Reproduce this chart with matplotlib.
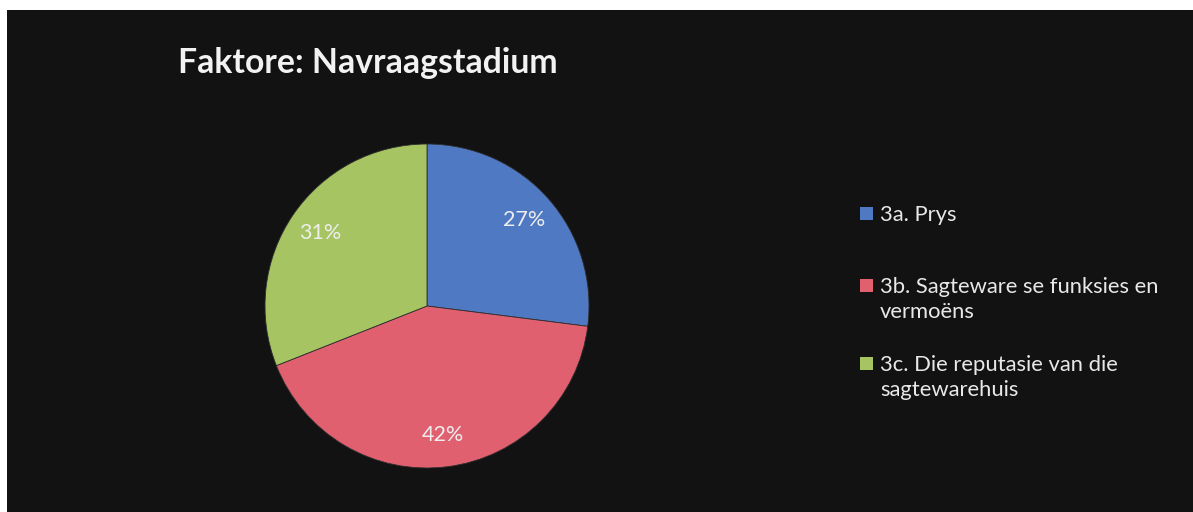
import matplotlib
matplotlib.use("Agg")
import matplotlib.pyplot as plt
from matplotlib.patches import Rectangle

# Chart content
title = "Faktore: Navraagstadium"
categories = [
    "3a. Prys",
    "3b. Sagteware se funksies en\nvermoëns",
    "3c. Die reputasie van die\nsagtewarehuis",
]
shares = [27, 42, 31]
colors = ["#5079C4", "#E0606F", "#A6C462"]

FONT = ["Lato", "DejaVu Sans"]
W, H = 1193, 512
fig = plt.figure(figsize=(W / 100, H / 100), dpi=100, facecolor="white")

# dark slide background
fig.patches.append(Rectangle((7 / W, 0), 1, (H - 10) / H, transform=fig.transFigure,
                             facecolor="#121212", edgecolor="none", zorder=-5))

# pie
cx, cy, r = 427, 306, 162
ax = fig.add_axes([(cx - r) / W, (H - cy - r) / H, 2 * r / W, 2 * r / H], zorder=3)
ax.set_facecolor("none")
wedges, texts, autotexts = ax.pie(
    shares, colors=colors, startangle=90, counterclock=False,
    autopct=lambda p: f"{p:.0f}%", pctdistance=0.8, radius=1,
    wedgeprops=dict(edgecolor="#2e2e2e", linewidth=0.6),
    textprops=dict(color="#eeeeee", fontsize=15.5, family=FONT),
)
ax.set_xlim(-1, 1)
ax.set_ylim(-1, 1)
ax.set_aspect("equal")
ax.axis("off")

# title
fig.text(178 / W, 1 - 73 / H, title, fontsize=24.3, fontweight="bold",
         color="#f2f2f2", va="baseline", ha="left", family=FONT, zorder=4)

# legend: coloured key plus wrapped label lines
first_baselines = [221, 293, 371]
line_step = 25
for label, col, yb in zip(categories, colors, first_baselines):
    fig.patches.append(Rectangle((860 / W, 1 - (yb - 1) / H), 13 / W, 13 / H,
                                 transform=fig.transFigure, facecolor=col,
                                 edgecolor="none", zorder=2))
    for i, line in enumerate(label.split("\n")):
        fig.text(880 / W, 1 - (yb + i * line_step) / H, line, fontsize=15.8,
                 color="#e8e8e8", va="baseline", ha="left", family=FONT, zorder=4)

fig.savefig("out.png", dpi=100, facecolor=fig.get_facecolor())
